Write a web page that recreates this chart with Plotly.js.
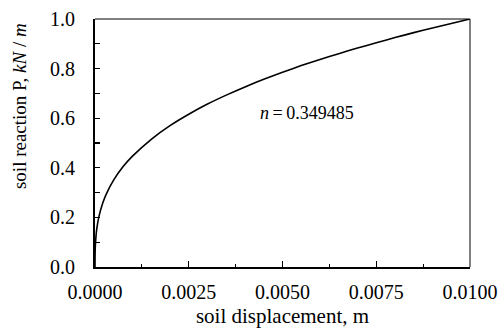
<!DOCTYPE html>
<html><head><meta charset="utf-8">
<script src="https://cdn.plot.ly/plotly-3.0.1.min.js"></script>
<style>html,body{margin:0;padding:0;background:#fff}#c{width:501px;height:332px}</style>
</head><body><div id="c"></div>
<script>
const displacement = [0, 0.000001, 0.000005, 0.00001, 0.00003, 0.00005, 0.0001, 0.0002, 0.0003, 0.0005, 0.00075, 0.001, 0.0015, 0.002, 0.0025, 0.003, 0.0035, 0.004, 0.0045, 0.005, 0.0055, 0.006, 0.0065, 0.007, 0.0075, 0.008, 0.0085, 0.009, 0.0095, 0.01];
const reaction = [0, 0.040, 0.070, 0.089, 0.131, 0.157, 0.200, 0.255, 0.294, 0.351, 0.405, 0.447, 0.515, 0.570, 0.616, 0.657, 0.693, 0.726, 0.757, 0.785, 0.812, 0.837, 0.860, 0.883, 0.904, 0.925, 0.945, 0.964, 0.982, 1.0];
const xTickVals = [0, 0.0025, 0.005, 0.0075, 0.01];
const xTickText = ["0.0000", "0.0025", "0.0050", "0.0075", "0.0100"];
const yTickVals = [0, 0.2, 0.4, 0.6, 0.8, 1.0];
const yTickText = ["0.0", "0.2", "0.4", "0.6", "0.8", "1.0"];
const xTitle = "soil displacement, m";
const yTitle = "soil reaction P, <i>kN</i> / <i>m</i>";
const annText = "<i>n</i>\u2009=\u20090.349485";

const FAM = "Liberation Serif";
const fnt = (s) => ({family: FAM, size: s, color: "#000"});
Plotly.newPlot("c", [{
  x: displacement, y: reaction, type: "scatter", mode: "lines",
  line: {color: "#000", width: 1.6, shape: "spline", smoothing: 0.5}, hoverinfo: "none"
}], {
  width: 501, height: 332,
  margin: {l: 95, r: 31, t: 19, b: 65},
  paper_bgcolor: "#fff", plot_bgcolor: "#fff",
  showlegend: false,
  font: fnt(20),
  xaxis: {
    range: [0, 0.01], tickvals: xTickVals, ticktext: xTickText,
    ticks: "inside", ticklen: 6, tickwidth: 1.2, tickcolor: "#000",
    minor: {dtick: 0.00125, tick0: 0, ticks: "inside", ticklen: 3, tickwidth: 1.2, tickcolor: "#000", showgrid: false},
    showgrid: false, zeroline: false, showline: true, linewidth: 2, linecolor: "#000",
    tickfont: fnt(20), ticklabelstandoff: 6,
    title: {text: xTitle, font: fnt(21), standoff: 6}
  },
  yaxis: {
    range: [0, 1.0], tickvals: yTickVals, ticktext: yTickText,
    ticks: "inside", ticklen: 5, tickwidth: 1.2, tickcolor: "#000",
    minor: {dtick: 0.1, tick0: 0, ticks: "inside", ticklen: 5, tickwidth: 1.2, tickcolor: "#000", showgrid: false},
    showgrid: false, zeroline: false, showline: true, linewidth: 2, linecolor: "#000",
    tickfont: fnt(20), ticklabelstandoff: 14
  },
  shapes: [
    {type: "line", xref: "paper", yref: "paper", x0: 0, x1: 1, y0: 1, y1: 1, line: {color: "#000", width: 1}},
    {type: "line", xref: "paper", yref: "paper", x0: 1, x1: 1, y0: 0, y1: 1, line: {color: "#000", width: 1}}
  ],
  annotations: [
    {x: 0.00435, y: 0.62, xref: "x", yref: "y", text: annText, showarrow: false, xanchor: "left", yanchor: "middle", font: fnt(18)},
    {x: -0.2027, y: 0.649, xref: "paper", yref: "paper", text: yTitle, textangle: -90, showarrow: false, xanchor: "center", yanchor: "middle", font: fnt(19)}
  ]
}, {displayModeBar: false, staticPlot: true});
</script></body></html>
